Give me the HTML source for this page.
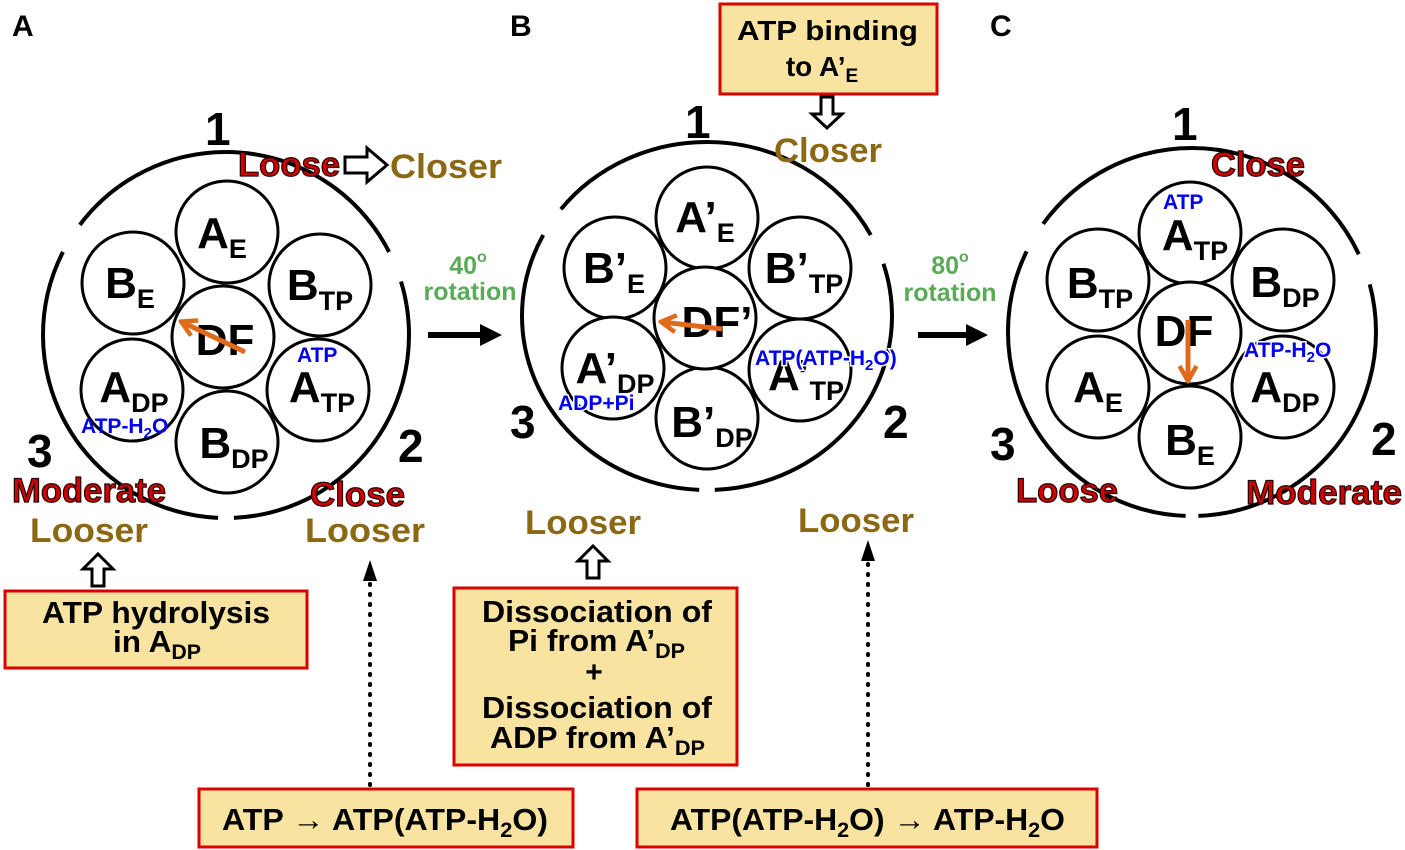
<!DOCTYPE html>
<html><head><meta charset="utf-8"><style>
html,body{margin:0;padding:0;background:#fff;}
svg{display:block;font-family:"Liberation Sans",sans-serif;font-weight:bold;}
.n{font-size:46px;fill:#000}
.L{font-size:44px;fill:#000;text-anchor:middle}
.s{font-size:27px}
.red{font-size:34px;fill:#d00000;stroke:#200;stroke-width:1.2}
.br{font-size:34px;fill:#8b6914}
.bl{font-size:21px;fill:#0000ee}
.gr{font-size:25px;fill:#5aaa58;text-anchor:middle}
.bx{fill:#f8e4a0;stroke:#dd0000;stroke-width:3}
.bt{font-size:26px;fill:#000;text-anchor:middle}
.bc{font-size:31px;fill:#000}
.c{fill:#fff;stroke:#000;stroke-width:3}
.o{fill:none;stroke:#000;stroke-width:4}
</style></head><body>
<svg width="1405" height="850" viewBox="0 0 1405 850">
<defs>
<marker id="oa" markerWidth="4" markerHeight="4" refX="3.3" refY="2" orient="auto" markerUnits="strokeWidth"><path d="M0.5,0.3 L3.5,2 L0.5,3.7" fill="none" stroke="#e06a1c" stroke-width="0.9"/></marker>
</defs>
<text x="12" y="36" style="font-size:30px">A</text>
<text x="510" y="36" style="font-size:30px">B</text>
<text x="990" y="36" style="font-size:30px">C</text>

<!-- Panel A -->
<circle class="o" cx="226" cy="335" r="183" pathLength="360" stroke-dasharray="87.5 5 114.5 10 116 10 17"/>
<circle class="c" cx="227" cy="232" r="51"/>
<circle class="c" cx="133" cy="283" r="51"/>
<circle class="c" cx="320" cy="285" r="51"/>
<circle class="c" cx="132" cy="390" r="51"/>
<circle class="c" cx="318" cy="390" r="51"/>
<circle class="c" cx="227" cy="442" r="51"/>
<circle class="c" cx="223" cy="337" r="51"/>
<text class="L" x="222" y="248">A<tspan class="s" dy="10">E</tspan></text>
<text class="L" x="130" y="298">B<tspan class="s" dy="10">E</tspan></text>
<text class="L" x="320" y="300">B<tspan class="s" dy="10">TP</tspan></text>
<text class="L" x="134" y="402">A<tspan class="s" dy="10">DP</tspan></text>
<text class="L" x="322" y="402">A<tspan class="s" dy="10">TP</tspan></text>
<text class="L" x="234" y="458">B<tspan class="s" dy="10">DP</tspan></text>
<text class="L" x="225" y="355">DF</text>
<line x1="245" y1="352" x2="182" y2="322" stroke="#e06a1c" stroke-width="5" marker-end="url(#oa)"/>
<text class="bl" x="297" y="362">ATP</text>
<text class="bl" x="81" y="433">ATP-H<tspan font-size="15" dy="5">2</tspan><tspan dy="-5">O</tspan></text>
<text class="n" x="205" y="145">1</text>
<text class="n" x="27" y="467">3</text>
<text class="n" x="398" y="462">2</text>
<text class="red" x="238" y="176" textLength="102" lengthAdjust="spacingAndGlyphs">Loose</text>
<path d="M345,157 h22 v-9 l20,17 l-20,17 v-9 h-22 z" fill="#fff" stroke="#000" stroke-width="3"/>
<text class="br" x="390" y="178" textLength="112" lengthAdjust="spacingAndGlyphs">Closer</text>
<text class="red" x="12" y="502" textLength="154" lengthAdjust="spacingAndGlyphs">Moderate</text>
<text class="br" x="30" y="542" textLength="118" lengthAdjust="spacingAndGlyphs">Looser</text>
<text class="red" x="310" y="506" textLength="95" lengthAdjust="spacingAndGlyphs">Close</text>
<text class="br" x="305" y="542" textLength="120" lengthAdjust="spacingAndGlyphs">Looser</text>
<path d="M92,586 v-17 h-9 l15,-15 l15,15 h-9 v17 z" fill="#fff" stroke="#000" stroke-width="3"/>
<rect class="bx" x="5" y="591" width="302" height="77"/>
<text class="bc" x="42" y="623" textLength="228" lengthAdjust="spacingAndGlyphs">ATP hydrolysis</text>
<text class="bc" x="113" y="652" textLength="88" lengthAdjust="spacingAndGlyphs">in A<tspan font-size="21" dy="7">DP</tspan></text>
<line x1="370" y1="785" x2="370" y2="580" stroke="#000" stroke-width="4" stroke-dasharray="1 9" stroke-linecap="round"/>
<path d="M363,581 L370,560 L377,581 z" fill="#000"/>

<!-- arrows between -->
<text class="gr" x="468" y="274">40<tspan font-size="16" dy="-12">o</tspan></text>
<text class="gr" x="470" y="300">rotation</text>
<line x1="428" y1="335" x2="482" y2="335" stroke="#000" stroke-width="6"/>
<path d="M480,324 L502,335 L480,346 z" fill="#000"/>
<text class="gr" x="950" y="274">80<tspan font-size="16" dy="-12">o</tspan></text>
<text class="gr" x="950" y="301">rotation</text>
<line x1="918" y1="335" x2="968" y2="335" stroke="#000" stroke-width="6"/>
<path d="M966,324 L988,335 L966,346 z" fill="#000"/>

<!-- Panel B -->
<ellipse class="o" cx="707" cy="316" rx="185" ry="174" pathLength="360" stroke-dasharray="87.5 5 114.5 10 116 10 17"/>
<circle class="c" cx="707" cy="218" r="51"/>
<circle class="c" cx="615" cy="268" r="51"/>
<circle class="c" cx="800" cy="268" r="51"/>
<circle class="c" cx="613" cy="368" r="51"/>
<circle class="c" cx="800" cy="370" r="51"/>
<circle class="c" cx="707" cy="418" r="51"/>
<circle class="c" cx="705" cy="318" r="51"/>
<text class="L" x="705" y="232">A’<tspan class="s" dy="10">E</tspan></text>
<text class="L" x="614" y="283">B’<tspan class="s" dy="10">E</tspan></text>
<text class="L" x="804" y="283">B’<tspan class="s" dy="10">TP</tspan></text>
<text class="L" x="615" y="383">A’<tspan class="s" dy="10">DP</tspan></text>
<text class="L" x="806" y="390">A’<tspan class="s" dy="10">TP</tspan></text>
<text class="L" x="712" y="437">B’<tspan class="s" dy="10">DP</tspan></text>
<text class="L" x="717" y="337">DF’</text>
<line x1="722" y1="329" x2="662" y2="322" stroke="#e06a1c" stroke-width="5" marker-end="url(#oa)"/>
<text class="bl" x="755" y="365" stroke="#fff" stroke-width="3" paint-order="stroke">ATP(ATP-H<tspan font-size="15" dy="5">2</tspan><tspan dy="-5">O)</tspan></text>
<text class="bl" x="558" y="410" stroke="#fff" stroke-width="3" paint-order="stroke">ADP+Pi</text>
<text class="n" x="685" y="138">1</text>
<text class="n" x="510" y="438">3</text>
<text class="n" x="883" y="438">2</text>
<rect class="bx" x="720" y="4" width="217" height="90"/>
<text class="bt" x="737" y="40" font-size="28" textLength="181" lengthAdjust="spacingAndGlyphs" style="text-anchor:start;font-size:28px">ATP binding</text>
<text class="bt" x="822" y="76" style="font-size:28px">to A’<tspan font-size="19" dy="6">E</tspan></text>
<path d="M821,97 v17 h-9 l15,14 l15,-14 h-9 v-17 z" fill="#fff" stroke="#000" stroke-width="3"/>
<text class="br" x="774" y="162" textLength="108" lengthAdjust="spacingAndGlyphs">Closer</text>
<text class="br" x="525" y="534" textLength="116" lengthAdjust="spacingAndGlyphs">Looser</text>
<text class="br" x="798" y="532" textLength="116" lengthAdjust="spacingAndGlyphs">Looser</text>
<path d="M587,578 v-17 h-9 l15,-15 l15,15 h-9 v17 z" fill="#fff" stroke="#000" stroke-width="3"/>
<rect class="bx" x="454" y="588" width="283" height="177"/>
<text class="bc" x="482" y="622" textLength="230" lengthAdjust="spacingAndGlyphs">Dissociation of</text>
<text class="bc" x="508" y="651" textLength="177" lengthAdjust="spacingAndGlyphs">Pi from A’<tspan font-size="21" dy="7">DP</tspan></text>
<text class="bt" x="594" y="682" style="font-size:30px">+</text>
<text class="bc" x="482" y="718" textLength="230" lengthAdjust="spacingAndGlyphs">Dissociation of</text>
<text class="bc" x="490" y="748" textLength="215" lengthAdjust="spacingAndGlyphs">ADP from A’<tspan font-size="21" dy="7">DP</tspan></text>
<line x1="868" y1="785" x2="868" y2="560" stroke="#000" stroke-width="4" stroke-dasharray="1 9" stroke-linecap="round"/>
<path d="M861,561 L868,540 L875,561 z" fill="#000"/>
<rect class="bx" x="199" y="789" width="374" height="58"/>
<text class="bc" x="222" y="830" textLength="326" lengthAdjust="spacingAndGlyphs">ATP → ATP(ATP-H<tspan font-size="21" dy="7">2</tspan><tspan dy="-7">O)</tspan></text>
<rect class="bx" x="637" y="789" width="460" height="58"/>
<text class="bc" x="670" y="830" textLength="395" lengthAdjust="spacingAndGlyphs">ATP(ATP-H<tspan font-size="21" dy="7">2</tspan><tspan dy="-7">O) → ATP-H</tspan><tspan font-size="21" dy="7">2</tspan><tspan dy="-7">O</tspan></text>

<!-- Panel C -->
<circle class="o" cx="1192" cy="332" r="184" pathLength="360" stroke-dasharray="88 4 114 10 119 10 15"/>
<circle class="c" cx="1190" cy="233" r="51"/>
<circle class="c" cx="1098" cy="280" r="51"/>
<circle class="c" cx="1283" cy="280" r="51"/>
<circle class="c" cx="1098" cy="387" r="51"/>
<circle class="c" cx="1283" cy="387" r="51"/>
<circle class="c" cx="1190" cy="437" r="51"/>
<circle class="c" cx="1190" cy="333" r="51"/>
<text class="L" x="1195" y="250">A<tspan class="s" dy="10">TP</tspan></text>
<text class="L" x="1100" y="298">B<tspan class="s" dy="10">TP</tspan></text>
<text class="L" x="1285" y="297">B<tspan class="s" dy="10">DP</tspan></text>
<text class="L" x="1098" y="402">A<tspan class="s" dy="10">E</tspan></text>
<text class="L" x="1285" y="402">A<tspan class="s" dy="10">DP</tspan></text>
<text class="L" x="1190" y="455">B<tspan class="s" dy="10">E</tspan></text>
<text class="L" x="1184" y="346">DF</text>
<line x1="1188" y1="320" x2="1188" y2="380" stroke="#e06a1c" stroke-width="5" marker-end="url(#oa)"/>
<text class="bl" x="1163" y="209">ATP</text>
<text class="bl" x="1244" y="357" stroke="#fff" stroke-width="3" paint-order="stroke">ATP-H<tspan font-size="15" dy="5">2</tspan><tspan dy="-5">O</tspan></text>
<text class="n" x="1172" y="140">1</text>
<text class="n" x="990" y="460">3</text>
<text class="n" x="1371" y="455">2</text>
<text class="red" x="1211" y="176" textLength="94" lengthAdjust="spacingAndGlyphs">Close</text>
<text class="red" x="1016" y="502" textLength="102" lengthAdjust="spacingAndGlyphs">Loose</text>
<text class="red" x="1246" y="504" textLength="156" lengthAdjust="spacingAndGlyphs">Moderate</text>
</svg>
</body></html>
